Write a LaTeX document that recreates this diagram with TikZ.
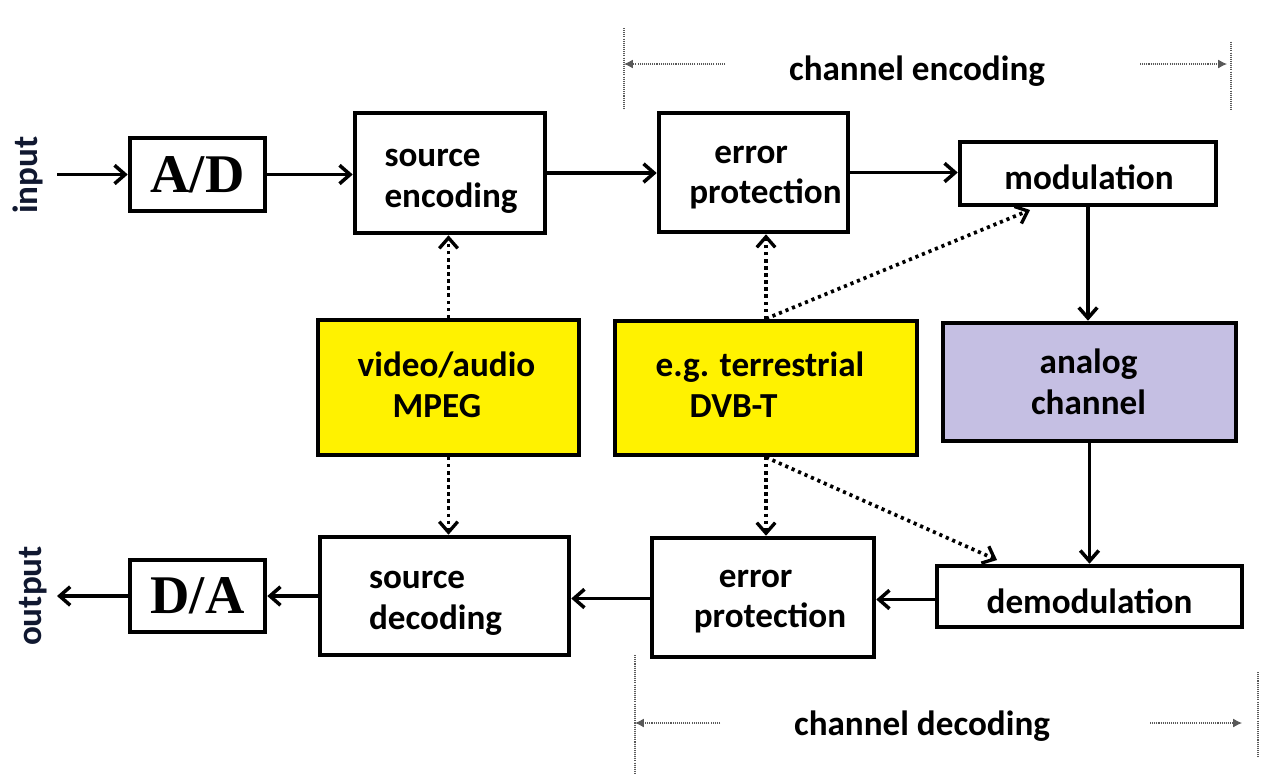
\documentclass[tikz,border=0pt]{standalone}
\usepackage{fontspec}
\setmainfont{Carlito}
\newfontfamily\serifb{Liberation Serif}
\usetikzlibrary{arrows.meta,calc}
\definecolor{yel}{HTML}{FFF200}
\definecolor{lav}{HTML}{C5BFE3}
\definecolor{navy}{HTML}{101830}
\tikzset{
  blk/.style={draw=black,line width=2.6pt,fill=white,inner sep=0pt},
  txt/.style={inner sep=0pt,align=left,font=\bfseries\fontsize{20}{23.2}\selectfont},
  convbox/.style={blk,font=\serifb\bfseries\fontsize{31}{31}\selectfont},
  arr/.style={line width=2.1pt,-{Straight Barb[length=6pt,width=10.5pt,line width=2pt]}},
  dotarr/.style={line width=2.1pt,dash pattern=on 1.8pt off 2.2pt,
    -{Straight Barb[length=6pt,width=10.5pt,line width=1.9pt]}},
  brk/.style={gray!70!black,line width=0.6pt,dash pattern=on 0.6pt off 0.6pt},
  brkarr/.style={brk,-{Latex[length=5pt,width=5pt]}},
  lbl/.style={font=\bfseries\fontsize{20}{23.2}\selectfont}
}
\begin{document}
\begin{tikzpicture}[x=0.02cm,y=-0.02cm]
\useasboundingbox (0,0) rectangle (1288,779);
% blocks
\node[convbox,minimum width=2.7cm,minimum height=1.46cm] (AD) at (197.5,174.5) {A/D};
\node[blk,minimum width=3.8cm,minimum height=2.4cm] (SE) at (450,173) {};
\node[blk,minimum width=3.78cm,minimum height=2.38cm] (EP1) at (753.5,172.5) {};
\node[blk,minimum width=5.12cm,minimum height=1.26cm] (MOD) at (1088,173.5) {};
\node[blk,fill=yel,minimum width=5.22cm,minimum height=2.7cm] (Y1) at (448.5,387.5) {};
\node[blk,fill=yel,minimum width=6.04cm,minimum height=2.68cm] (Y2) at (766,388) {};
\node[blk,fill=lav,minimum width=5.86cm,minimum height=2.36cm] (AC) at (1089.5,382) {};
\node[blk,minimum width=4.98cm,minimum height=2.36cm] (SD) at (444.5,596) {};
\node[blk,minimum width=4.44cm,minimum height=2.38cm] (EP2) at (763,597.5) {};
\node[blk,minimum width=6.1cm,minimum height=1.22cm] (DEM) at (1089.5,596.5) {};
\node[convbox,minimum width=2.7cm,minimum height=1.44cm] (DA) at (197.5,596) {D/A};
% block texts
\node[txt] (SEt) at ($(SE)+(1,8)$) {source\\encoding};
\node[txt] (EP1t) at ($(EP1)+(12,5)$) {\hspace*{0.5cm}error\\protection};
\node[txt] (MODt) at ($(MOD)+(1,4)$) {modulation};
\node[txt] (Y1t) at ($(Y1)+(-2,-3)$) {video/audio\\\hspace*{0.7cm}MPEG};
\node[txt] (Y2t) at ($(Y2)+(-6,-3)$) {e.g. terrestrial\\\hspace*{0.68cm}DVB-T};
\node[txt,align=center] (ACt) at ($(AC)+(-1,0)$) {analog\\channel};
\node[txt] (SDt) at ($(SD)+(-9,7)$) {source\\decoding};
\node[txt] (EP2t) at ($(EP2)+(7,4)$) {\hspace*{0.5cm}error\\protection};
\node[txt] (DEMt) at ($(DEM)+(0,5)$) {demodulation};
% side labels
\node[lbl,rotate=90,text=navy] (IN) at (28,175) {input};
\node[lbl,rotate=90,text=navy] (OUT) at (33,596) {output};
\coordinate (inS) at (57,174.5);
\coordinate (outE) at (57,596);
% solid connectors
\draw[arr] (inS) -- (AD.west);
\draw[arr] (AD.east) -- (SE.west |- AD.east);
\draw[arr] (SE.east) -- (EP1.west |- SE.east);
\draw[arr] (EP1.east) -- (MOD.west |- EP1.east);
\draw[arr] (MOD.south) -- (MOD.south |- AC.north);
\draw[arr] (AC.south) -- (AC.south |- DEM.north);
\draw[arr] ($(DEM.west)+(0,3)$) -- ($(EP2.east)+(0,2)$);
\coordinate (epw) at ($(EP2.west)+(0,1)$);
\draw[arr] (epw) -- (SD.east |- epw);
\draw[arr] (SD.west) -- (DA.east |- SD.west);
\draw[arr] (DA.west) -- (outE);
% dotted connectors
\coordinate (modT) at (1030,210);
\coordinate (demT) at (997,560);
\draw[dotarr] (Y1.north) -- (Y1.north |- SE.south);
\draw[dotarr] (Y1.south) -- (Y1.south |- SD.north);
\draw[dotarr] (Y2.north) -- (Y2.north |- EP1.south);
\draw[dotarr] (Y2.north) -- (modT);
\draw[dotarr] (Y2.south) -- (Y2.south |- EP2.north);
\draw[dotarr] (Y2.south) -- (demT);
% channel encoding bracket
\coordinate (ceL1) at (624,28); \coordinate (ceL2) at (624,110);
\coordinate (ceR1) at (1231,42); \coordinate (ceR2) at (1231,110);
\draw[brk] (ceL1) -- (ceL2);
\draw[brk] (ceR1) -- (ceR2);
\node[lbl] (CE) at (917,71) {channel encoding};
\coordinate (ceA) at (725,64); \coordinate (ceB) at (1140,64);
\draw[brkarr] (ceA) -- (ceL1 |- ceA);
\draw[brkarr] (ceB) -- (1227,64);
% channel decoding bracket
\coordinate (cdL1) at (635,655); \coordinate (cdL2) at (635,775);
\coordinate (cdR1) at (1258,672); \coordinate (cdR2) at (1258,757);
\draw[brk] (cdL1) -- (cdL2);
\draw[brk] (cdR1) -- (cdR2);
\node[lbl] (CD) at (922,726) {channel decoding};
\coordinate (cdA) at (720,723); \coordinate (cdB) at (1150,723);
\draw[brkarr] (cdA) -- (cdL1 |- cdA);
\draw[brkarr] (cdB) -- (1242,723);
\end{tikzpicture}
\end{document}
